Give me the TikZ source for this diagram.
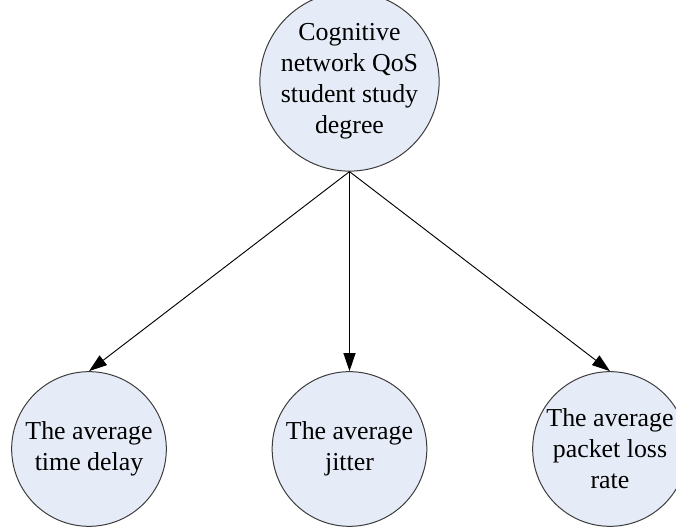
\documentclass[tikz,border=0pt]{standalone}
\usepackage{fontspec}
\setmainfont{Liberation Serif}
\usetikzlibrary{arrows.meta}
\definecolor{bubblefill}{RGB}{230,236,247}
\definecolor{bubbleedge}{RGB}{60,60,60}
\begin{document}
\begin{tikzpicture}[x=0.75pt,y=-0.75pt,
  bubble/.style={circle,draw=bubbleedge,line width=0.75pt,fill=bubblefill,
    minimum size=116pt,inner sep=0pt,align=center,
    font=\fontsize{19.4pt}{23.2pt}\selectfont},
  link/.style={line width=0.7pt,-{Triangle[length=13.5pt,width=9pt]}}]
  \useasboundingbox (0,0) rectangle (676,527);
  % root concept
  \node[bubble] (root) at (349.5,81.5) {Cognitive\\network QoS\\student study\\degree};
  % measured indicators
  \node[bubble] (delay)  at (89,449)    {The average\\time delay};
  \node[bubble] (jitter) at (349.5,449) {The average\\jitter};
  \node[bubble] (loss)   at (610,449)   {The average\\packet loss\\rate};
  % connectors
  \draw[link] (root.south) -- (delay.north);
  \draw[link] (root.south) -- (jitter.north);
  \draw[link] (root.south) -- (loss.north);
\end{tikzpicture}
\end{document}
